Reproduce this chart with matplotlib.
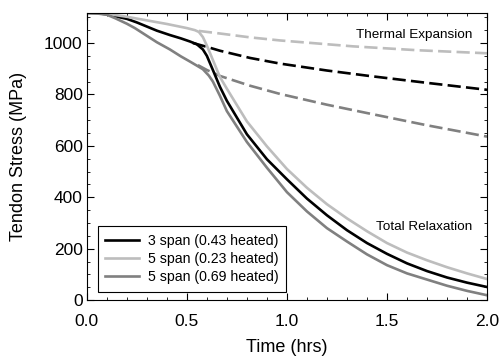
import matplotlib
matplotlib.use("Agg")
import matplotlib.pyplot as plt
from matplotlib.ticker import MultipleLocator, FormatStrFormatter

plt.rcParams['font.family'] = ['Liberation Sans', 'DejaVu Sans']

# total relaxation curves (solid)
t_3span = [0, 0.05, 0.1, 0.14, 0.2, 0.25, 0.3, 0.35, 0.415, 0.47, 0.515, 0.55, 0.58,
           0.6, 0.63, 0.665, 0.7, 0.8, 0.9, 1.0, 1.1, 1.2, 1.3, 1.4, 1.5, 1.6,
           1.7, 1.8, 1.9, 2.0]
s_3span = [1117, 1116, 1112, 1104, 1094, 1080, 1064, 1048, 1031, 1018, 1006, 995, 975,
           950, 895, 830, 775, 645, 548, 470, 395, 330, 272, 222, 180, 143,
           113, 88, 68, 51]

t_5span_23 = [0, 0.05, 0.1, 0.14, 0.2, 0.3, 0.4, 0.5, 0.54, 0.56, 0.58, 0.6, 0.615,
              0.64, 0.665, 0.7, 0.8, 0.9, 1.0, 1.1, 1.2, 1.3, 1.4, 1.5, 1.6,
              1.7, 1.8, 1.9, 2.0]
s_5span_23 = [1117, 1116, 1114, 1109, 1102, 1088, 1074, 1058, 1050, 1043, 1023, 990, 962,
              915, 868, 822, 695, 598, 510, 437, 373, 318, 268, 222, 185,
              155, 128, 104, 82]

t_5span_69 = [0, 0.05, 0.1, 0.14, 0.2, 0.24, 0.3, 0.35, 0.415, 0.47, 0.515, 0.55, 0.58,
              0.61, 0.63, 0.665, 0.7, 0.8, 0.9, 1.0, 1.1, 1.2, 1.3, 1.4, 1.5,
              1.6, 1.7, 1.8, 1.9, 2.0]
s_5span_69 = [1117, 1115, 1110, 1097, 1075, 1058, 1028, 1003, 975, 948, 928, 912, 898,
              873, 850, 795, 735, 615, 515, 420, 345, 280, 228, 178, 136,
              104, 80, 56, 36, 19]

# thermal expansion only (dashed)
t_th_3span = [0.53, 0.6, 0.665, 0.815, 0.965, 1.2, 1.41, 1.7, 2.0]
s_th_3span = [1000, 985, 970, 942, 920, 893, 872, 845, 818]

t_th_23 = [0.56, 0.665, 0.815, 0.965, 1.33, 1.65, 2.0]
s_th_23 = [1047, 1037, 1022, 1010, 987, 972, 960]

t_th_69 = [0.555, 0.6, 0.665, 0.815, 0.965, 1.2, 1.41, 1.7, 2.0]
s_th_69 = [914, 895, 872, 834, 802, 760, 726, 680, 636]

labels = ['3 span (0.43 heated)', '5 span (0.23 heated)', '5 span (0.69 heated)']
c_black, c_light, c_dark = 'black', '#bdbdbd', '#808080'

fig = plt.figure(figsize=(4.99, 3.59), dpi=100)
ax = fig.add_axes([0.174, 0.164, 0.802, 0.8])

lw = 1.9
ax.plot(t_th_23, s_th_23, color=c_light, lw=lw, dashes=(5, 2))
ax.plot(t_th_3span, s_th_3span, color=c_black, lw=lw, dashes=(5, 2))
ax.plot(t_th_69, s_th_69, color=c_dark, lw=lw, dashes=(5, 2))

ax.plot(t_3span, s_3span, color=c_black, lw=lw, label=labels[0])
ax.plot(t_5span_23, s_5span_23, color=c_light, lw=lw, label=labels[1])
ax.plot(t_5span_69, s_5span_69, color=c_dark, lw=lw, label=labels[2])

ax.set_xlim(0, 2.0)
ax.set_ylim(0, 1117)
ax.xaxis.set_major_locator(MultipleLocator(0.5))
ax.xaxis.set_minor_locator(MultipleLocator(0.1))
ax.yaxis.set_major_locator(MultipleLocator(200))
ax.yaxis.set_minor_locator(MultipleLocator(50))
ax.xaxis.set_major_formatter(FormatStrFormatter('%.1f'))
ax.tick_params(which='both', direction='in', top=True, right=True, labelsize=12.5)
ax.tick_params(which='major', length=5)
ax.tick_params(which='minor', length=2.5)
ax.tick_params(axis='x', pad=10)
ax.tick_params(axis='y', pad=3)

ax.set_xlabel('Time (hrs)', fontsize=13)
ax.set_ylabel('Tendon Stress (MPa)', fontsize=13)
ax.xaxis.set_label_coords(0.5, -0.135)
ax.yaxis.set_label_coords(-0.15, 0.5)

ax.text(1.635, 1031, 'Thermal Expansion', fontsize=9.7, ha='center', va='center')
ax.text(1.685, 284, 'Total Relaxation', fontsize=9.7, ha='center', va='center')

leg = ax.legend(loc='lower left', bbox_to_anchor=(0.027, 0.028), borderaxespad=0,
                fontsize=10.2, fancybox=False, framealpha=1, edgecolor='black',
                handlelength=2.4, handletextpad=0.6, labelspacing=0.3, borderpad=0.55)
leg.get_frame().set_linewidth(0.8)

fig.savefig('out.png', dpi=100)
